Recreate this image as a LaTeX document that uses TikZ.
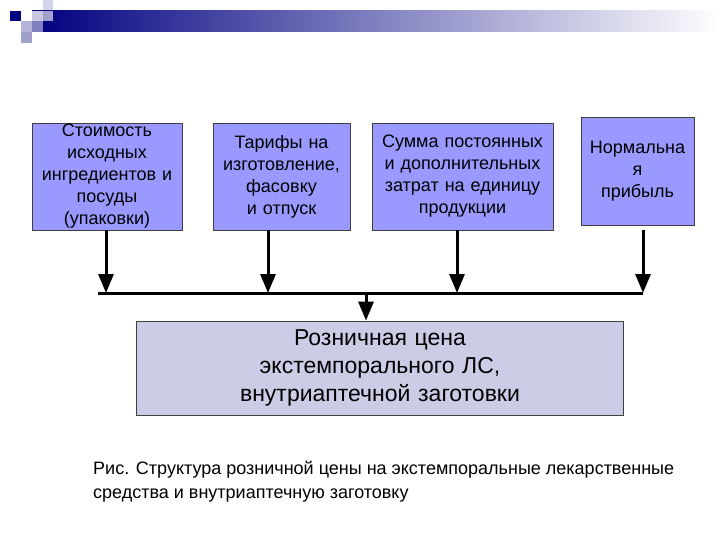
\documentclass[tikz,border=0pt]{standalone}
\usepackage{fontspec}
\setmainfont{Liberation Sans}
\usetikzlibrary{arrows.meta}
\definecolor{navy}{HTML}{000080}
\definecolor{topfill}{HTML}{9999FF}
\definecolor{botfill}{HTML}{CCCCE6}
\definecolor{edge}{HTML}{404040}
\definecolor{sqA}{HTML}{C8C8E0}
\definecolor{sqB}{HTML}{D4D4EA}
\definecolor{sqC}{HTML}{B4B4D8}
\definecolor{sqD}{HTML}{A0A0CC}
\definecolor{sqE}{HTML}{8080C0}
\tikzset{
  topbox/.style={draw=edge, line width=0.8pt, fill=topfill, align=center, inner sep=1pt,
    font=\fontsize{18}{22}\selectfont},
  botbox/.style={draw=edge, line width=0.8pt, fill=botfill, align=center,
    font=\fontsize{23}{28}\selectfont},
  flow/.style={line width=3pt, -{Triangle[length=19pt,width=15pt]}},
  bus/.style={line width=3pt}
}
\begin{document}
\begin{tikzpicture}[x=1pt,y=-1pt]
\useasboundingbox (0,0) rectangle (720,540);
% header decoration
\shade[left color=navy, right color=white, middle color=sqE] (32,11) rectangle (720,32);
\fill[sqB] (43,0) rectangle (53,10);
\fill[navy] (10,11) rectangle (21,21);
\fill[sqA] (32,11) rectangle (43,21);
\fill[sqD] (43,11) rectangle (53,21);
\fill[sqC] (21,21) rectangle (32,32);
\fill[sqE] (32,21) rectangle (43,32);
\fill[sqD] (21,32) rectangle (32,43);
% boxes
\node[topbox, minimum width=150pt, minimum height=107pt, text width=148pt] (b1) at (107,176.5)
  {Стоимость\\исходных\\ингредиентов и\\посуды\\(упаковки)};
\node[topbox, minimum width=137pt, minimum height=107pt, text width=135pt] (b2) at (281.5,176.5)
  {Тарифы на\\изготовление,\\фасовку\\и отпуск};
\node[topbox, minimum width=181pt, minimum height=107pt, text width=179pt] (b3) at (462.5,176.5)
  {Сумма постоянных\\и дополнительных\\затрат на единицу\\продукции};
\node[topbox, minimum width=113pt, minimum height=108pt, text width=111pt] (b4) at (637.5,171)
  {Нормальна\\я\\прибыль};
\node[botbox, minimum width=484pt, minimum height=94pt, text width=480pt] (b5) at (380,368)
  {Розничная цена\\экстемпорального ЛС,\\внутриаптечной заготовки};
% bus coordinates
\coordinate (t1) at (106,293);
\coordinate (t2) at (268,293);
\coordinate (t3) at (457,293);
\coordinate (t4) at (643,293);
\coordinate (tm) at (366,293);
\coordinate (bl) at (98,293);
\draw[bus] (bl) -- (t4);
\draw[flow] (b1.south -| t1) -- (t1);
\draw[flow] (b2.south -| t2) -- (t2);
\draw[flow] (b3.south -| t3) -- (t3);
\draw[flow, shorten <=5pt] (b4.south -| t4) -- (t4);
\draw[flow] (tm) -- (b5.north -| tm);
% caption
\node[anchor=west, align=left, inner sep=0pt, font=\fontsize{18}{23.5}\selectfont] (cap) at (93,481.5)
  {Рис. Структура розничной цены на экстемпоральные лекарственные\\средства и внутриаптечную заготовку};
\end{tikzpicture}
\end{document}
